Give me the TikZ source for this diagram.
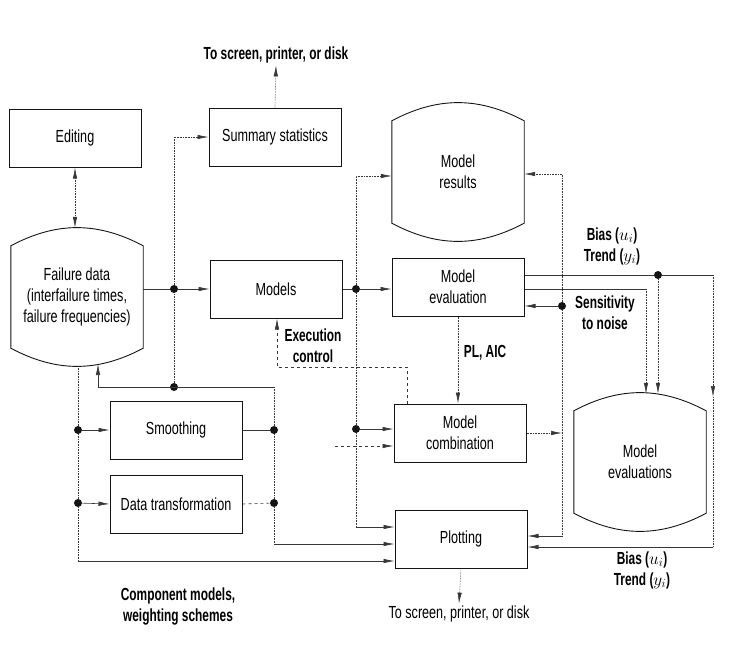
\documentclass[tikz,border=0pt]{standalone}
\usepackage{fontspec}
\setmainfont{Liberation Sans}[FakeStretch=0.72,BoldFeatures={FakeStretch=0.68}]
\usepackage{tikz}
\usetikzlibrary{arrows.meta,positioning}
\definecolor{inkblack}{RGB}{20,20,20}
\definecolor{tracegrey}{RGB}{55,55,55}
\newcommand{\boxfont}{\fontsize{17.5}{21}\selectfont}
\newcommand{\lblfont}{\fontsize{17.5}{21}\selectfont\bfseries}
\tikzset{
  box/.style={draw=inkblack,line width=1pt,minimum width=132pt,minimum height=58pt,
    align=center,inner sep=2pt,font=\boxfont},
  drum/.style={minimum width=132pt,minimum height=102pt,align=center,
    inner sep=2pt,font=\boxfont},
  store/.style={draw=inkblack,line width=0.9pt},
  lbl/.style={align=center,inner sep=2pt,font=\lblfont},
  txt/.style={align=center,inner sep=2pt,font=\boxfont},
  dot/.style={circle,fill=inkblack,inner sep=0pt,minimum size=8pt},
  link/.style={draw=tracegrey,line width=0.6pt},
  flow/.style={link,->},
  faint/.style={densely dotted}
}

\begin{document}
\begin{tikzpicture}[x=1pt,y=-1pt,>={Latex[length=11pt,width=4.5pt]}]
  \useasboundingbox (0,0) rectangle (743,659);
  % boxes and data stores
  \node[box] (edit) at (75,138) {Editing};
  \node[drum] (fdata) at (77,297) {Failure data\\(interfailure times,\\failure frequencies)};
  \node[box] (summ) at (275,137) {Summary statistics};
  \node[box] (models) at (276,289) {Models};
  \node[drum] (mres) at (458,172) {Model\\results};
  \node[box] (meval) at (458,287) {Model\\evaluation};
  \node[box] (mcomb) at (460,433) {Model\\combination};
  \node[box] (plot) at (461,539) {Plotting};
  \node[box] (smooth) at (176,430) {Smoothing};
  \node[box,below=15pt of smooth] (dtrans) {Data transformation};
  \node[drum] (mevals) at (640,462) {Model\\evaluations};
  \foreach \d in {fdata,mres,mevals}
    \draw[store] (\d.north west) to[bend left=28] (\d.north east)
      -- (\d.south east) to[bend left=28] (\d.south west) -- cycle;

  % labels
  \node[lbl] (out1) at (276,55) {To screen, printer, or disk};
  \node[txt] (out2) at (459,614) {To screen, printer, or disk};
  \node[lbl] (exec) at (313,346) {Execution\\control};
  \node[lbl] (plaic) at (485,353) {PL, AIC};
  \node[lbl] (bt1) at (612,246) {Bias ($u_i$)\\Trend ($y_i$)};
  \node[lbl] (sens) at (605,313) {Sensitivity\\to noise};
  \node[lbl] (bt2) at (642,570) {Bias ($u_i$)\\Trend ($y_i$)};
  \node[lbl] (comp) at (178,607) {Component models,\\weighting schemes};

  % junctions
  \node[dot] (j1) at (174,289) {};
  \node[dot] (j2) at (174,387) {};
  \node[dot] (j3) at (274,430) {};
  \node[dot] (j4) at (274,503) {};
  \node[dot] (j5) at (78,430) {};
  \node[dot] (j6) at (78,503) {};
  \node[dot] (j7) at (356,289) {};
  \node[dot] (j8) at (356,429) {};
  \node[dot] (j9) at (658,275) {};
  \node[dot] (j10) at (562,306) {};

  \coordinate (fdtop) at ([yshift=18pt]fdata.north);
  \coordinate (fdbot) at ([yshift=-18pt]fdata.south);
  \coordinate (evtop) at ([yshift=17pt]mevals.north);
  \coordinate (fbk) at (98,387);
  \coordinate (fbtip) at (98,364);
  \coordinate (bus) at (274,387);
  \coordinate (p1) at (356,527);
  \coordinate (p2) at (274,544);
  \coordinate (p3) at (78,561);
  \coordinate (ec1) at (407,367);
  \coordinate (ec2) at (277,367);
  \coordinate (cw) at (335,446);
  \coordinate (sn) at (646,289);
  \coordinate (bt) at (713,275);
  \coordinate (btmid) at (713,397);
  \coordinate (btlow) at (713,547);
  \coordinate (ev0) at (562,174);
  \coordinate (ev) at (562,536);

  % failure data side
  \draw[link,faint,<->] (edit.south) -- (edit.south |- fdtop);
  \draw[link] (fdata.east |- j1) -- (j1);
  \draw[flow] (j1) -- (models.west |- j1);
  \draw[flow,faint] (j2) -- (j1) |- (summ.west);
  \draw[link] (fbk) -- (bus);
  \draw[flow] (fbk) -- (fbtip);
  \draw[link,faint] (bus) -- (j3) -- (j4) -- (p2);
  \draw[flow] (p2) -- (plot.west |- p2);
  \draw[link] (smooth.east) -- (j3);
  \draw[link,dashed] (dtrans.east) -- (j4);
  \draw[link,faint] (j5 |- fdbot) -- (j5) -- (j6) -- (p3);
  \draw[flow] (j5) -- (smooth.west);
  \draw[flow] (j6) -- (dtrans.west);
  \draw[flow] (p3) -- (plot.west |- p3);
  \draw[flow,faint] (summ.north) -- (out1.south);

  % model side
  \draw[link] (models.east) -- (j7);
  \draw[flow] (j7) -- (meval.west |- j7);
  \draw[flow,faint] (j7) |- ([yshift=-4pt]mres.west);
  \draw[link,faint] (j7) -- (j8) -- (p1);
  \draw[flow] (j8) -- (mcomb.west |- j8);
  \draw[flow] (p1) -- (plot.west |- p1);
  \draw[flow,dashed] (cw) -- (mcomb.west |- cw);
  \draw[flow,dashed] (mcomb.north -| ec1) -- (ec1) -- (ec2) -- (models.south -| ec2);
  \draw[flow,faint] (meval.south) -- (meval.south |- mcomb.north);
  \draw[flow,faint] (mcomb.east) -- (mcomb.east -| j10);
  \draw[flow,faint] (plot.south) -- (out2.north);

  % evaluation outputs
  \draw[link] (meval.east |- j9) -- (j9) -- (bt);
  \draw[flow,faint] (j9) -- (j9 |- evtop);
  \draw[link] (meval.east |- sn) -- (sn);
  \draw[flow,faint] (sn) -- (sn |- evtop);
  \draw[flow,faint] (bt) -- (btmid);
  \draw[link,faint] (btmid) -- (btlow);
  \draw[flow] (btlow) -- (plot.east |- btlow);
  \draw[flow,faint] (j10) -- (ev0) -- (mres.east |- ev0);
  \draw[flow] (j10) -- (meval.east |- j10);
  \draw[link,faint] (j10) -- (ev);
  \draw[flow] (ev) -- (plot.east |- ev);
\end{tikzpicture}
\end{document}
